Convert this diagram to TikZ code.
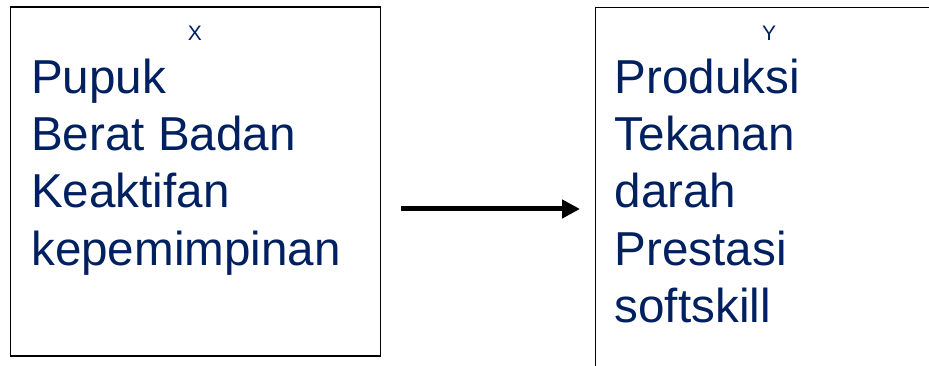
\documentclass[tikz,border=0pt]{standalone}
\usepackage{fontspec}
\setmainfont{Liberation Sans}
\usetikzlibrary{arrows.meta}
\definecolor{navy}{RGB}{0,32,96}
\begin{document}
\begin{tikzpicture}[x=1pt,y=-1pt,
  box/.style={draw=black,line width=1.8pt,inner sep=0pt,outer sep=0pt},
  big/.style={anchor=base west,inner sep=0pt,text=navy,font=\fontsize{47.6}{56}\selectfont},
  small/.style={anchor=base,inner sep=0pt,text=navy,font=\fontsize{21}{24}\selectfont},
  conn/.style={line width=5pt,-{Triangle[length=18pt,width=18pt]}}]
\useasboundingbox (0,0) rectangle (929,366);
\clip (0,0) rectangle (929,366);
\fill[white] (0,0) rectangle (929,366);
\node[box,minimum width=370pt,minimum height=349pt] (lbox) at (195.5,181.75) {};
\node[box,anchor=north west,minimum width=400pt,minimum height=420pt] (rbox) at (595.5,7.5) {};
\node[small] (xl) at (195,40.5) {X};
\node[small] (yl) at (769,40.5) {Y};
\node[big] (l1) at (31,93.3) {Pupuk};
\node[big] (l2) at (31,150.6) {Berat Badan};
\node[big] (l3) at (31,207.9) {Keaktifan};
\node[big] (l4) at (31,265.2) {kepemimpinan};
\node[big] (r1) at (614.5,93.3) {Produksi};
\node[big] (r2) at (614.5,150.6) {Tekanan};
\node[big] (r3) at (614.5,207.9) {darah};
\node[big] (r4) at (614.5,265.2) {Prestasi};
\node[big] (r5) at (614.5,322.5) {softskill};
\coordinate (a1) at (401,209);
\coordinate (a2) at (580,209);
\draw[conn] (a1) -- (a2);
\end{tikzpicture}
\end{document}
